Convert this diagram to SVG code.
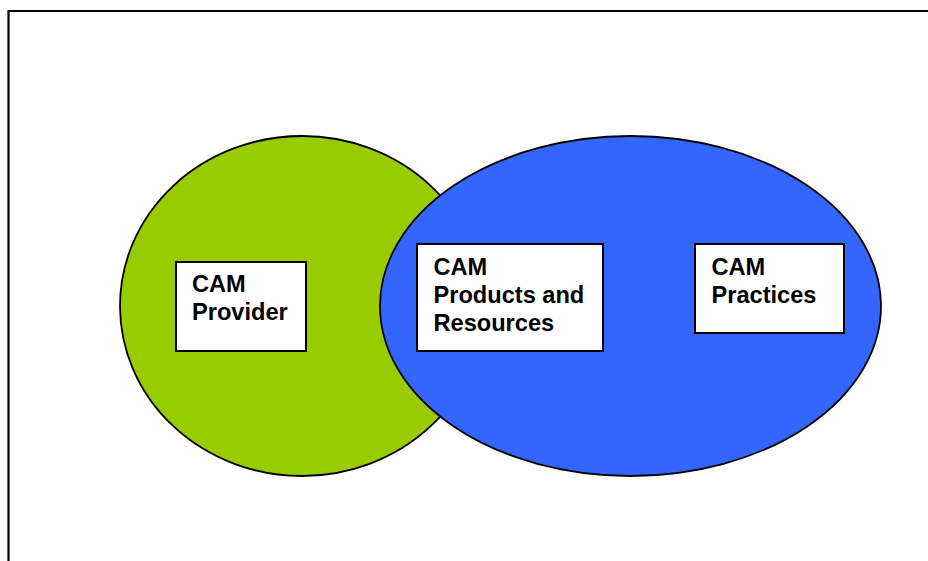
<svg xmlns="http://www.w3.org/2000/svg" width="928" height="561" viewBox="0 0 928 561">
<style>
.frame{fill:none;stroke:#000;stroke-width:2.2}
.set{stroke:#000;stroke-width:1.8}
.box{fill:#fff;stroke:#000;stroke-width:2}
.lbl{font-family:"Liberation Sans",Arial,sans-serif;font-weight:bold;font-size:23.6px;fill:#000}
</style>
<rect width="928" height="561" fill="#fff"/>
<path class="frame" d="M8.5,561 V11 H928"/>
<g id="set-provider"><ellipse class="set" cx="302" cy="306" rx="182" ry="170" fill="#99cc00"/></g>
<g id="set-cam"><ellipse class="set" cx="630.5" cy="306" rx="250.5" ry="170" fill="#3366ff"/></g>
<g id="connectors"></g>
<g id="node-provider">
<rect class="box" x="176" y="262" width="130" height="89"/>
<text class="lbl" x="192" y="291.5">CAM</text>
<text class="lbl" x="192" y="319.5">Provider</text>
</g>
<g id="node-products">
<rect class="box" x="417" y="244" width="186" height="107"/>
<text class="lbl" x="433.5" y="275">CAM</text>
<text class="lbl" x="433.5" y="303">Products and</text>
<text class="lbl" x="433.5" y="331">Resources</text>
</g>
<g id="node-practices">
<rect class="box" x="695" y="244" width="149" height="89"/>
<text class="lbl" x="711.5" y="275">CAM</text>
<text class="lbl" x="711.5" y="303">Practices</text>
</g>
</svg>
